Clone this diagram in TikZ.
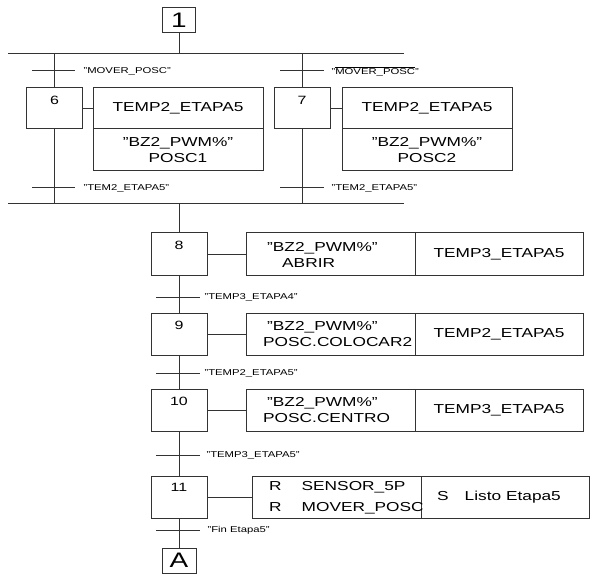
\documentclass[tikz,border=0pt]{standalone}
\usepackage{fontspec}
\setmainfont[FakeStretch=1.33]{Liberation Sans}
\usetikzlibrary{positioning}

\begin{document}
\begin{tikzpicture}[x=1pt,y=-1pt,
    linea/.style={draw=black!80,line width=1pt},
    caja/.style={draw=black!80,line width=1pt,inner sep=0pt,outer sep=0pt,font=\fontsize{13}{15.5}\selectfont},
    etapa/.style={caja,minimum width=56,minimum height=42},
    num/.style={inner sep=0pt,font=\fontsize{12}{14}\selectfont},
    trans/.style={inner sep=0pt,anchor=west,font=\fontsize{8.5}{10}\selectfont}]
    \useasboundingbox (0,0) rectangle (602,577);

    % inicio y divergencia en Y
    \node[caja,minimum width=33,minimum height=25,font=\fontsize{21}{24}\selectfont] (uno) at (179,20.5) {1};
    \coordinate (b1l) at (8,54);
    \coordinate (b1r) at (404,54);
    \coordinate (b2l) at (8,204);
    \coordinate (b2r) at (404,204);
    \draw[linea] (b1l) -- (b1r);
    \draw[linea] (b2l) -- (b2r);
    \draw[linea] (uno) -- (uno |- b1l);

    % rama izquierda
    \node[etapa,minimum height=41] (e6) at (54.5,108.5) {};
    \node[num] (n6) at ([yshift=-12pt]e6.north) {6};
    \node[caja,minimum width=170,minimum height=41] (a6) at (178,108.5) {TEMP2\_ETAPA5};
    \node[caja,minimum width=170,minimum height=42,align=center,below=0pt of a6] (c6) {"BZ2\_PWM\%"\\POSC1};
    \draw[linea] (e6 |- b1l) -- (e6);
    \draw[linea] (e6) -- (e6 |- b2l);
    \draw[linea] (e6) -- (a6);
    \draw[linea] (32,71) -- (75,71) node[trans,right=8pt] (t6) {"MOVER\_POSC"};
    \draw[linea] (32,188) -- (75,188) node[trans,right=8pt] (t6b) {"TEM2\_ETAPA5"};

    % rama derecha
    \node[etapa,minimum height=41] (e7) at (302,108.5) {};
    \node[num] (n7) at ([yshift=-12pt]e7.north) {7};
    \node[caja,minimum width=170,minimum height=41] (a7) at (427,108.5) {TEMP2\_ETAPA5};
    \node[caja,minimum width=170,minimum height=42,align=center,below=0pt of a7] (c7) {"BZ2\_PWM\%"\\POSC2};
    \draw[linea] (e7 |- b1l) -- (e7);
    \draw[linea] (e7) -- (e7 |- b2l);
    \draw[linea] (e7) -- (a7);
    \draw[linea] (280,71) -- (324,71) node[trans,right=7pt] (t7) {"$\overline{\hbox{MOVER\_POSC}}$"};
    \draw[linea] (280,188) -- (324,188) node[trans,right=7pt] (t7b) {"TEM2\_ETAPA5"};

    % secuencia
    \node[etapa,minimum height=43] (e8) at (179,254.5) {};
    \node[num] (n8) at ([yshift=-12pt]e8.north) {8};
    \node[caja,minimum width=169,minimum height=43] (a8) at (330.5,254.5) {};
    \node[caja,minimum width=168,minimum height=43,right=0pt of a8] (b8) {TEMP3\_ETAPA5};
    \node[anchor=west,align=left,inner sep=0pt,font=\fontsize{13}{16}\selectfont] (x8) at ([xshift=17pt]a8.west)
      {\hspace*{4pt}"BZ2\_PWM\%"\\\hspace*{19pt}ABRIR};
    \draw[linea] (e8 |- b2l) -- (e8);
    \draw[linea] (e8) -- (a8);
    \draw[linea] (156,297) -- (200,297) node[trans,right=4pt] (t8) {"TEMP3\_ETAPA4"};

    \node[etapa] (e9) at (179,334) {};
    \node[num] (n9) at ([yshift=-12pt]e9.north) {9};
    \node[caja,minimum width=169,minimum height=42] (a9) at (330.5,334) {};
    \node[caja,minimum width=168,minimum height=42,right=0pt of a9] (b9) {TEMP2\_ETAPA5};
    \node[anchor=west,align=left,inner sep=0pt,font=\fontsize{13}{16}\selectfont] (x9) at ([xshift=17pt]a9.west)
      {\hspace*{4pt}"BZ2\_PWM\%"\\POSC.COLOCAR2};
    \draw[linea] (e8) -- (e9);
    \draw[linea] (e9) -- (a9);
    \draw[linea] (156,373) -- (200,373) node[trans,right=4pt] (t9) {"TEMP2\_ETAPA5"};

    \node[etapa] (e10) at (179,410) {};
    \node[num] (n10) at ([yshift=-12pt]e10.north) {10};
    \node[caja,minimum width=169,minimum height=42] (a10) at (330.5,410) {};
    \node[caja,minimum width=168,minimum height=42,right=0pt of a10] (b10) {TEMP3\_ETAPA5};
    \node[anchor=west,align=left,inner sep=0pt,font=\fontsize{13}{16}\selectfont] (x10) at ([xshift=17pt]a10.west)
      {\hspace*{4pt}"BZ2\_PWM\%"\\POSC.CENTRO};
    \draw[linea] (e9) -- (e10);
    \draw[linea] (e10) -- (a10);
    \draw[linea] (156,455) -- (200,455) node[trans,right=6pt] (t10) {"TEMP3\_ETAPA5"};

    \node[etapa] (e11) at (179,497) {};
    \node[num] (n11) at ([yshift=-11pt]e11.north) {11};
    \node[caja,minimum width=169,minimum height=42] (a11) at (336.5,497) {};
    \node[caja,minimum width=168,minimum height=42,right=0pt of a11] (b11) {};
    \node[anchor=west,inner sep=0pt,font=\fontsize{13}{18}\selectfont] (x11) at ([xshift=17pt]a11.west)
      {\renewcommand{\arraystretch}{1.15}\begin{tabular}{@{}l@{\hspace{20pt}}l@{}}R & SENSOR\_5P\\R & MOVER\_POSC\end{tabular}};
    \node[anchor=west,inner sep=0pt,font=\fontsize{13}{16}\selectfont] (y11) at ([xshift=16pt]b11.west)
      {S\hspace{16pt}Listo Etapa5};
    \draw[linea] (e10) -- (e11);
    \draw[linea] (e11) -- (a11);
    \draw[linea] (156,530) -- (200,530) node[trans,right=7pt] (t11) {"Fin Etapa5"};

    % salida
    \node[caja,minimum width=34,minimum height=25,font=\fontsize{21}{24}\selectfont] (fa) at (179,560.5) {A};
    \draw[linea] (e11) -- (fa);

  \end{tikzpicture}
\end{document}
